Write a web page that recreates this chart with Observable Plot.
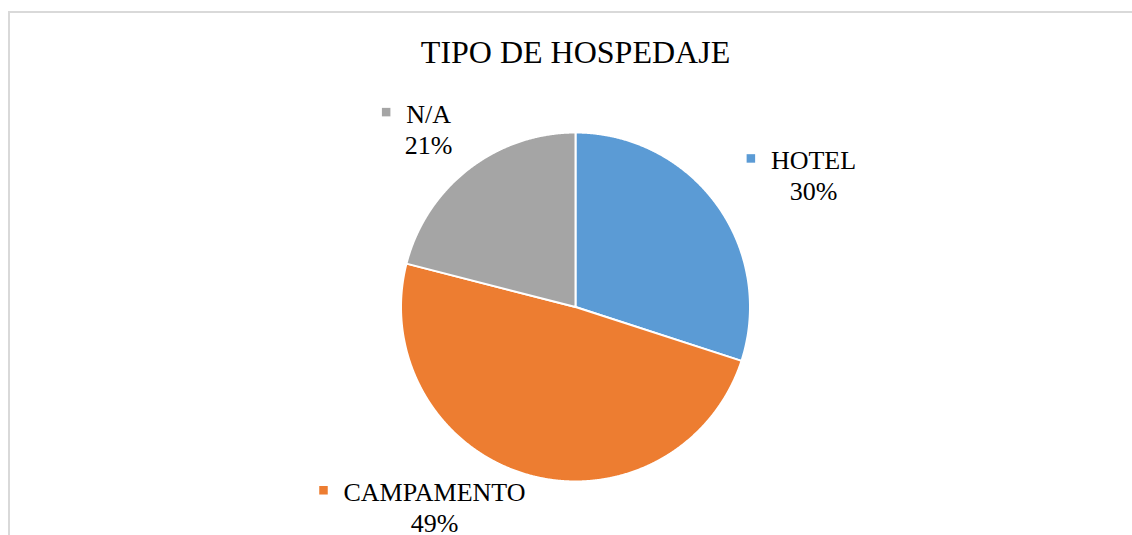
<!DOCTYPE html>
<html>
<head>
<meta charset="utf-8">
<script src="https://cdn.jsdelivr.net/npm/d3@7"></script>
<script src="https://cdn.jsdelivr.net/npm/@observablehq/plot@0.6"></script>
<style>
  html, body { margin: 0; padding: 0; background: #fff; }
  #wrap { position: relative; width: 1132px; height: 535px; overflow: hidden; }
  #frame { position: absolute; left: 8px; top: 11px; width: 1200px; height: 600px;
           border-left: 2px solid #d9d9d9; border-top: 2px solid #d9d9d9; pointer-events: none; }
  #chart { position: absolute; left: 0; top: 0; }
  #chart svg, #chart svg text { font-family: "Liberation Serif", "Times New Roman", serif !important; }
</style>
</head>
<body>
<div id="wrap"><div id="chart"></div><div id="frame"></div></div>
<script>
// ---- data ----
const chartTitle = "TIPO DE HOSPEDAJE";
const categories = ["HOTEL", "CAMPAMENTO", "N/A"];
const shares = [30, 49, 21];
const pctLabels = ["30%", "49%", "21%"];
const colors = ["#5B9BD5", "#ED7D31", "#A5A5A5"];

// ---- layout (pixels, separate from data) ----
const W = 1132, H = 535;
const R = 174.5;              // pie radius in px
const labelNudge = {          // label offset from slice mid-edge, px (first-line baseline, text center)
  "HOTEL": [96.8, -35.5],
  "CAMPAMENTO": [-92.3, 26.2],
  "N/A": [-40, -46.5]
};
const labelFont = 26, lineGap = 31;
const serif = '"Liberation Serif", "Times New Roman", serif';

// ---- geometry from data ----
const total = d3.sum(shares);
let acc = 0;
const slices = categories.map((c, i) => {
  const a0 = acc / total * 2 * Math.PI;
  acc += shares[i];
  const a1 = acc / total * 2 * Math.PI;
  return {cat: c, a0, a1, mid: (a0 + a1) / 2, color: colors[i], pct: pctLabels[i]};
});

function slicePoints(s) {
  const pts = [{x: 0, y: 0}];
  const n = Math.max(2, Math.ceil((s.a1 - s.a0) / (Math.PI / 720)));
  for (let k = 0; k <= n; k++) {
    const a = s.a0 + (s.a1 - s.a0) * k / n;
    pts.push({x: Math.sin(a), y: Math.cos(a)});
  }
  pts.push({x: 0, y: 0});
  return pts;
}

const ctx = document.createElement("canvas").getContext("2d");
ctx.font = `${labelFont}px "Liberation Serif"`;

const labels = slices.map(s => {
  const [nx, ny] = labelNudge[s.cat];
  const x = Math.sin(s.mid) + nx / R;
  const y = Math.cos(s.mid) - ny / R;
  const w = ctx.measureText(s.cat).width;
  return {
    cat: s.cat, pct: s.pct, color: s.color, x, y,
    py: y - lineGap / R,
    sx: x - (w / 2 + 20) / R,
    sy: y + 10.5 / R
  };
});

const marks = [
  ...slices.map(s => Plot.line(slicePoints(s), {
    x: "x", y: "y", fill: s.color, stroke: "white", strokeWidth: 2, curve: "linear", strokeLinejoin: "round"
  })),
  Plot.dot(labels, {x: "sx", y: "sy", symbol: "square", r: 4.8, fill: "color", stroke: null}),
  Plot.text(labels, {x: "x", y: "y", text: "cat", fontSize: labelFont, fontFamily: serif, textAnchor: "middle", lineAnchor: "bottom", fill: "#000"}),
  Plot.text(labels, {x: "x", y: "py", text: "pct", fontSize: labelFont, fontFamily: serif, textAnchor: "middle", lineAnchor: "bottom", fill: "#000"}),
  Plot.text([chartTitle], {frameAnchor: "top", lineAnchor: "bottom", dy: -70, fontSize: 32, fontFamily: serif, fill: "#000"})
];

const chart = Plot.plot({
  width: W, height: H,
  marginLeft: 400.5, marginRight: W - 400.5 - 2 * R,
  marginTop: 132, marginBottom: H - 132 - 2 * R,
  x: {domain: [-1, 1], axis: null},
  y: {domain: [-1, 1], axis: null},
  color: {type: "identity"},
  style: {background: "#fff", overflow: "visible"},
  marks
});
document.getElementById("chart").appendChild(chart);
</script>
</body>
</html>
